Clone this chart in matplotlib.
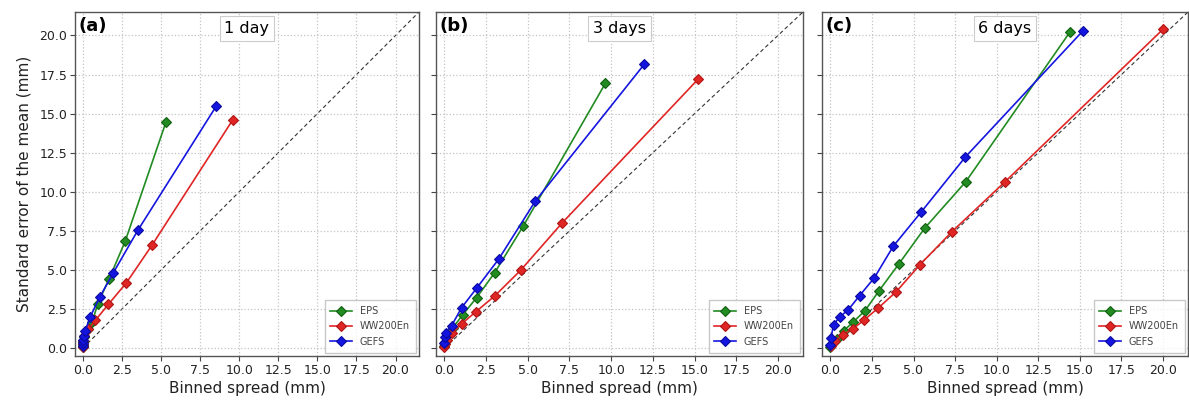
import matplotlib
matplotlib.use("Agg")
import matplotlib.pyplot as plt
import numpy as np

# ---------------- data ----------------
panel_labels = ["(a)", "(b)", "(c)"]
lead_titles = ["1 day", "3 days", "6 days"]
series_names = ["EPS", "WW200En", "GEFS"]

# Panel (a) 1 day
a_eps_x = [0.0, 0.0, 0.02, 0.1, 0.3, 0.6, 0.96, 1.69, 2.71, 5.31]
a_eps_y = [0.1, 0.2, 0.4, 0.7, 1.2, 1.68, 2.85, 4.45, 6.84, 14.44]
a_ww_x = [0.0, 0.0, 0.03, 0.1, 0.36, 0.81, 1.64, 2.78, 4.42, 9.58]
a_ww_y = [0.1, 0.25, 0.45, 0.75, 1.21, 1.79, 2.81, 4.17, 6.58, 14.59]
a_gefs_x = [0.0, 0.0, 0.0, 0.05, 0.15, 0.47, 1.09, 1.96, 3.52, 8.52]
a_gefs_y = [0.15, 0.3, 0.55, 0.8, 1.1, 2.0, 3.28, 4.84, 7.54, 15.46]

# Panel (b) 3 days
b_eps_x = [0.0, 0.03, 0.15, 0.5, 1.10, 1.94, 3.02, 4.73, 9.66]
b_eps_y = [0.15, 0.4, 0.8, 1.3, 2.13, 3.24, 4.83, 7.81, 16.95]
b_ww_x = [0.0, 0.02, 0.13, 0.48, 1.04, 1.90, 3.04, 4.57, 7.07, 15.21]
b_ww_y = [0.1, 0.25, 0.55, 0.96, 1.56, 2.34, 3.36, 4.98, 8.02, 17.2]
b_gefs_x = [0.0, 0.05, 0.1, 0.44, 1.04, 1.96, 3.26, 5.45, 11.98]
b_gefs_y = [0.3, 0.7, 1.0, 1.45, 2.6, 3.87, 5.7, 9.4, 18.15]

# Panel (c) 6 days
c_eps_x = [0.0, 0.1, 0.4, 0.80, 1.36, 2.08, 2.92, 4.12, 5.69, 8.14, 14.39]
c_eps_y = [0.1, 0.25, 0.6, 1.11, 1.66, 2.39, 3.66, 5.39, 7.7, 10.64, 20.2]
c_ww_x = [0.05, 0.3, 0.76, 1.36, 2.04, 2.86, 3.97, 5.37, 7.31, 10.48, 20.0]
c_ww_y = [0.15, 0.45, 0.86, 1.24, 1.81, 2.55, 3.62, 5.32, 7.45, 10.62, 20.4]
c_gefs_x = [0.0, 0.04, 0.2, 0.56, 1.06, 1.76, 2.65, 3.79, 5.47, 8.12, 15.19]
c_gefs_y = [0.2, 0.68, 1.51, 2.0, 2.43, 3.36, 4.51, 6.53, 8.72, 12.23, 20.3]

panels = [
    [(a_eps_x, a_eps_y), (a_ww_x, a_ww_y), (a_gefs_x, a_gefs_y)],
    [(b_eps_x, b_eps_y), (b_ww_x, b_ww_y), (b_gefs_x, b_gefs_y)],
    [(c_eps_x, c_eps_y), (c_ww_x, c_ww_y), (c_gefs_x, c_gefs_y)],
]

ticks = [0.0, 2.5, 5.0, 7.5, 10.0, 12.5, 15.0, 17.5, 20.0]
diag = [0.0, 22.0]

# ---------------- style ----------------
colors = ["#228b22", "#e02525", "#1515e0"]
edge_colors = ["#106010", "#b01515", "#0a0a a0".replace(" ", "")]

W, H = 1189, 401
fig = plt.figure(figsize=(W / 100, H / 100), dpi=100)

# axes boxes in pixels: left, right, top, bottom
boxes = [(75, 419, 12, 356), (436, 803, 12, 356), (822, 1188, 12, 356)]

spine_col = "#555555"
for i, (l, r, t, b) in enumerate(boxes):
    ax = fig.add_axes([l / W, 1 - b / H, (r - l) / W, (b - t) / H])
    ax.plot(diag, diag, linestyle="--", color="#333333", lw=0.8, zorder=1,
            dashes=(3.5, 2.5))
    for k, (xs, ys) in enumerate(panels[i]):
        ax.plot(xs, ys, color=colors[k], lw=1.2, marker="D", markersize=4.8,
                markerfacecolor=colors[k], markeredgecolor=edge_colors[k],
                markeredgewidth=0.8, label=series_names[k], zorder=3)
    ax.set_xlim(-0.5, 21.5)
    ax.set_ylim(-0.5, 21.5)
    ax.set_xticks(ticks)
    ax.set_yticks(ticks)
    ax.grid(True, linestyle=":", color="#c4c4c4", lw=0.9)
    ax.tick_params(direction="out", length=3.5, width=0.8, colors="#444444",
                   labelsize=9, labelcolor="#222222", pad=2)
    if i > 0:
        ax.set_yticklabels([])
    else:
        ax.set_ylabel("Standard error of the mean (mm)", fontsize=11,
                      color="#222222", labelpad=6)
    ax.set_xlabel("Binned spread (mm)", fontsize=11, color="#222222",
                  labelpad=3)
    for s in ax.spines.values():
        s.set_color(spine_col)
        s.set_linewidth(1.0)
    ax.text(0.01, 0.985, panel_labels[i], transform=ax.transAxes,
            fontsize=13, fontweight="bold", va="top", ha="left")
    ax.text(0.5, 0.952, lead_titles[i], transform=ax.transAxes,
            fontsize=11.5, va="center", ha="center",
            bbox=dict(boxstyle="square,pad=0.3", facecolor="white",
                      edgecolor="#cccccc", lw=0.8))
    leg = ax.legend(loc="lower right", fontsize=7, frameon=True,
                    handlelength=2.2, borderpad=0.6, labelspacing=0.55,
                    fancybox=False, borderaxespad=0.35)
    leg.get_frame().set_edgecolor("#bbbbbb")
    for txt in leg.get_texts():
        txt.set_color("#444444")

fig.savefig("out.png", dpi=100)
